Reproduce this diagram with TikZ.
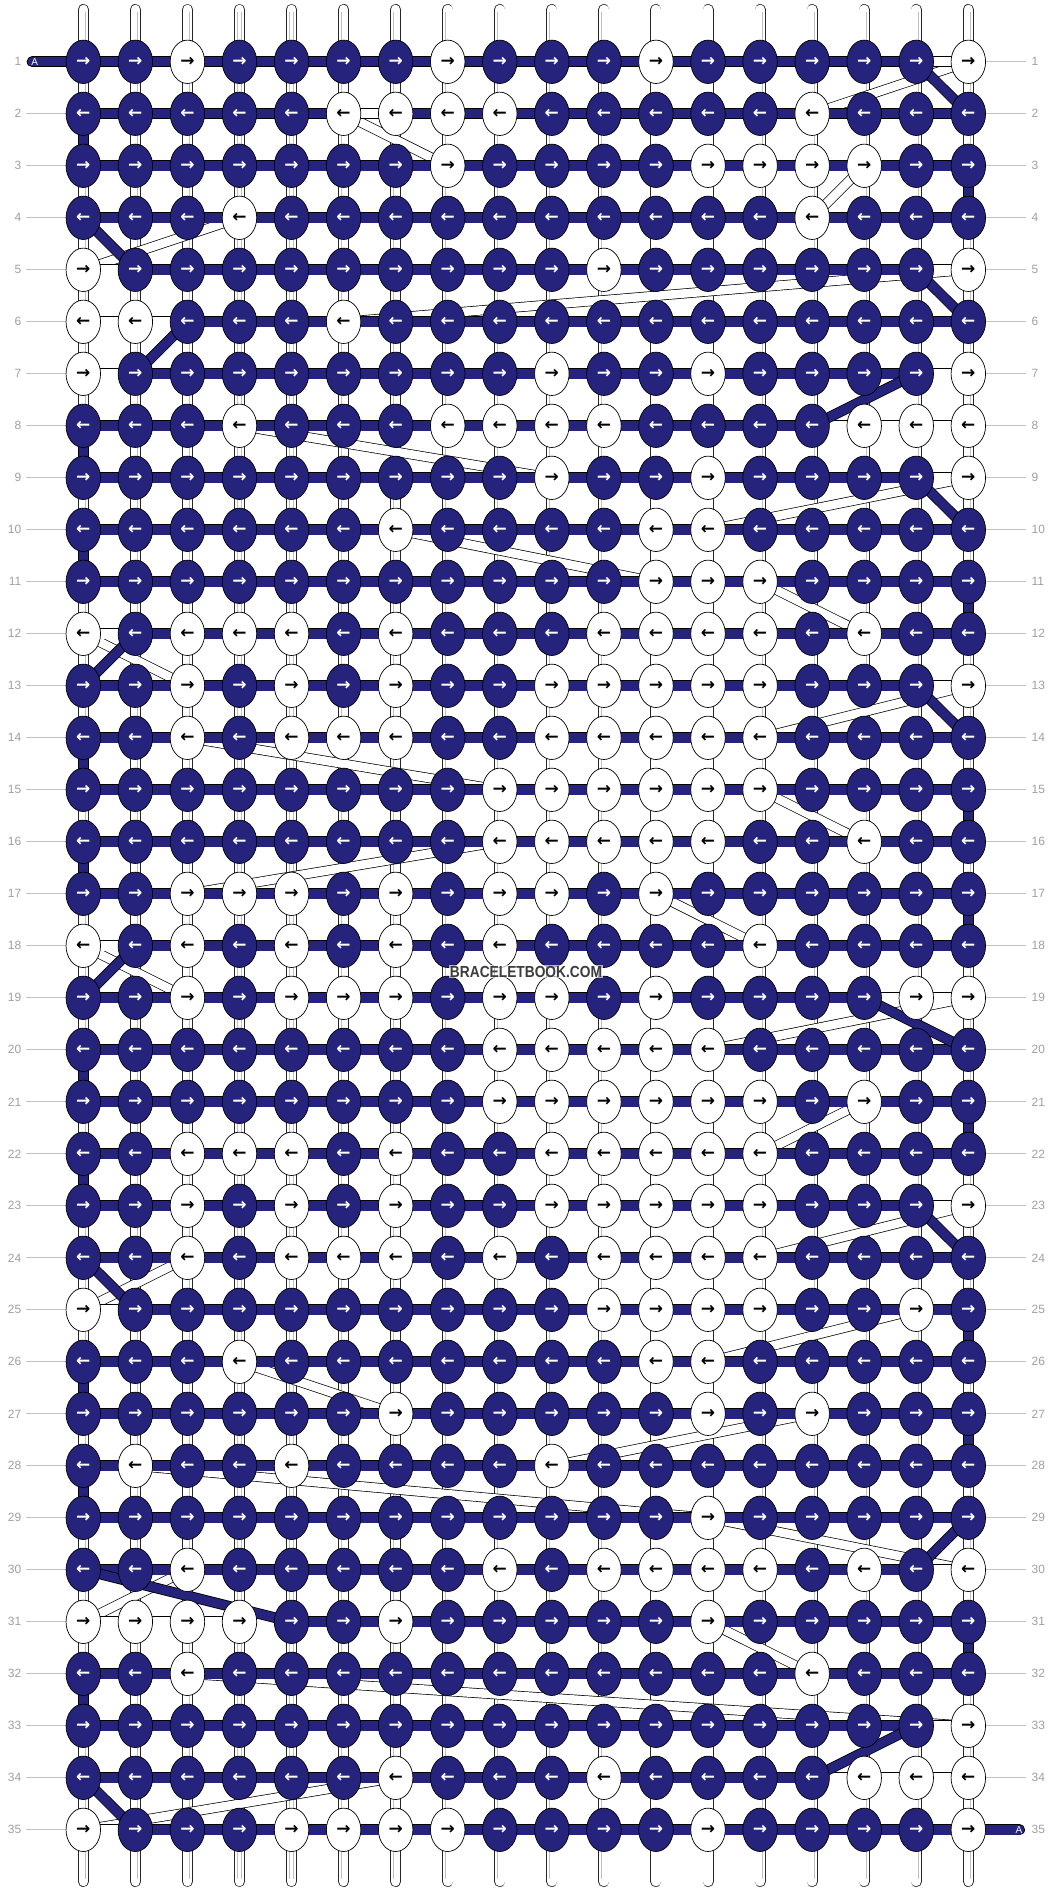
\documentclass[tikz,border=0pt]{standalone}
\usepackage{fontspec}
\setmainfont{Liberation Sans}
\newfontfamily\arrowfont{DejaVu Sans}
\usetikzlibrary{shapes.geometric}
\definecolor{navy}{RGB}{38,35,125}
\definecolor{labgray}{RGB}{160,160,160}
\definecolor{linegray}{RGB}{195,195,195}
\definecolor{wmgray}{RGB}{60,60,60}
\pgfdeclarelayer{paper}
\pgfdeclarelayer{strands}
\pgfdeclarelayer{bands}
\pgfdeclarelayer{bars}
\pgfdeclarelayer{diag}
\pgfsetlayers{paper,strands,bands,bars,diag,main}
\tikzset{
  knot/.style={ellipse, draw=black, line width=0.7pt, minimum width=34.5pt, minimum height=43.4pt, inner sep=0pt, font=\arrowfont\bfseries\fontsize{17}{17}\selectfont},
  knot1/.style={knot, fill=navy, text=white},
  knot0/.style={knot, fill=white, text=black},
  darkbar/.style={draw=black, line width=0.8pt, double=navy, double distance=9.4pt},
  whitebar/.style={draw=black, line width=0.8pt, double=white, double distance=9.4pt},
  band/.style={draw=black, line width=0.7pt, double=white, double distance=8.6pt},
  diagbar/.style={draw=black, line width=0.8pt, double=navy, double distance=9pt},
  strand/.style={draw=black!85, line width=0.7pt, double=white, double distance=9.6pt, line cap=round},
  strandin/.style={draw=black!25, line width=0.5pt, double=white, double distance=3.9pt},
  rowlab/.style={text=labgray, font=\fontsize{12}{12}\selectfont, inner sep=0pt},
  labline/.style={draw=linegray, line width=0.8pt},
  atext/.style={text=white, font=\fontsize{10}{10}\selectfont, inner sep=0pt},
}
\begin{document}
\begin{tikzpicture}[x=1pt,y=-1pt]
\begin{pgfonlayer}{paper}
\fill[white] (0,0) rectangle (1052,1892);
\end{pgfonlayer}
\useasboundingbox (0,0) rectangle (1052,1892);

% knots
\foreach \r/\pat in {
1/{1,1,0,1,1,1,1,0,1,1,1,0,1,1,1,1,1,0},
2/{1,1,1,1,1,0,0,0,0,1,1,1,1,1,0,1,1,1},
3/{1,1,1,1,1,1,1,0,1,1,1,1,0,0,0,0,1,1},
4/{1,1,1,0,1,1,1,1,1,1,1,1,1,1,0,1,1,1},
5/{0,1,1,1,1,1,1,1,1,1,0,1,1,1,1,1,1,0},
6/{0,0,1,1,1,0,1,1,1,1,1,1,1,1,1,1,1,1},
7/{0,1,1,1,1,1,1,1,1,0,1,1,0,1,1,1,1,0},
8/{1,1,1,0,1,1,1,0,0,0,0,1,1,1,1,0,0,0},
9/{1,1,1,1,1,1,1,1,1,0,1,1,0,1,1,1,1,0},
10/{1,1,1,1,1,1,0,1,1,1,1,0,0,1,1,1,1,1},
11/{1,1,1,1,1,1,1,1,1,1,1,0,0,0,1,1,1,1},
12/{0,1,0,0,0,1,0,1,1,1,0,0,0,0,1,0,1,1},
13/{1,1,0,1,0,1,0,1,1,0,0,0,0,0,1,1,1,0},
14/{1,1,0,1,0,0,0,1,1,0,0,0,0,0,1,1,1,1},
15/{1,1,1,1,1,1,1,1,0,0,0,0,0,0,1,1,1,1},
16/{1,1,1,1,1,1,1,1,0,0,0,0,0,1,1,0,1,1},
17/{1,1,0,0,0,1,0,1,0,0,1,0,1,1,1,1,1,1},
18/{0,1,0,1,0,1,0,1,0,1,1,1,1,0,1,1,1,1},
19/{1,1,0,1,0,0,0,1,0,0,1,0,1,1,1,1,0,0},
20/{1,1,1,1,1,1,1,1,0,0,0,0,0,1,1,1,1,1},
21/{1,1,1,1,1,1,1,1,0,0,0,0,0,0,1,0,1,1},
22/{1,1,0,0,0,1,0,1,1,0,0,0,0,0,1,1,1,1},
23/{1,1,0,1,0,1,0,1,1,0,0,0,0,0,1,1,1,0},
24/{1,1,0,1,0,0,0,1,0,1,0,0,0,0,1,1,1,1},
25/{0,1,1,1,1,1,1,1,1,1,0,0,0,0,1,1,0,1},
26/{1,1,1,0,1,1,1,1,1,1,1,0,0,1,1,1,1,1},
27/{1,1,1,1,1,1,0,1,1,1,1,1,0,1,0,1,1,1},
28/{1,0,1,1,0,1,1,1,1,0,1,1,1,1,1,1,1,1},
29/{1,1,1,1,1,1,1,1,1,1,1,1,0,1,1,1,1,1},
30/{1,1,0,1,1,1,1,1,0,1,0,0,0,0,1,0,1,0},
31/{0,0,0,0,1,1,0,1,1,1,1,1,0,1,1,1,1,1},
32/{1,1,0,1,1,1,1,1,1,1,1,1,1,1,0,1,1,1},
33/{1,1,1,1,1,1,1,1,1,1,1,1,1,1,1,1,1,0},
34/{1,1,1,1,1,1,0,1,1,1,0,1,1,1,1,0,0,0},
35/{0,1,1,1,0,0,0,0,1,1,1,1,0,1,1,1,1,0}}{
  \ifodd\r \def\arr{→}\else\def\arr{←}\fi
  \foreach \v [count=\c] in \pat {
    \node[knot\v] (k-\r-\c) at ({83.3+(\c-1)*52.06},{61.8+(\r-1)*52}) {\arr};
  }
}

% vertical strands
\begin{pgfonlayer}{strands}
\foreach \c in {1,...,18}{
  \coordinate (top-\c) at ({83.3+(\c-1)*52.06},9.5);
  \coordinate (bot-\c) at ({83.3+(\c-1)*52.06},1881.5);
  \draw[strand] (top-\c) -- (bot-\c);
  \draw[strandin, shorten <=3pt, shorten >=3pt] (top-\c) -- (bot-\c);
}
\end{pgfonlayer}

% row labels and their lines
\foreach \r in {1,...,35}{
  \node[rowlab, anchor=east] (ll-\r) at (21.5,{61.8+(\r-1)*52}) {\r};
  \node[rowlab, anchor=west] (lr-\r) at (1031.5,{61.8+(\r-1)*52}) {\r};
}
\begin{pgfonlayer}{strands}
\foreach \r in {2,...,35}{
  \draw[labline] ([xshift=4.5pt]ll-\r.east) -- (k-\r-1.west);
}
\foreach \r in {1,...,34}{
  \draw[labline] (k-\r-18.east) -- ([xshift=-5.5pt]lr-\r.west);
}
\end{pgfonlayer}

% white diagonal threads
\begin{pgfonlayer}{bands}
\foreach \ra/\ca/\rb/\cb in {1/18/2/15, 2/6/3/8, 3/16/4/15, 4/4/5/1, 5/18/6/6,
  8/4/9/10, 9/18/10/13, 10/7/11/12, 11/14/12/16, 12/1/13/3, 13/18/14/14,
  14/3/15/9, 15/14/16/16, 16/9/17/3, 17/12/18/14, 18/1/19/3, 19/18/20/13,
  21/16/22/14, 23/18/24/14, 24/3/25/1, 25/17/26/13, 26/4/27/7, 27/15/28/10,
  28/2/29/13, 29/13/30/18, 30/3/31/1, 31/13/32/15, 32/3/33/18, 34/7/35/1}{
  \draw[band] (k-\ra-\ca.center) -- (k-\rb-\cb.center);
}
\end{pgfonlayer}

% horizontal bars and vertical turns
\begin{pgfonlayer}{bars}
\foreach \r in {1,...,35}{
  \draw[darkbar] (k-\r-1.center) -- (k-\r-18.center);
}
\foreach \r/\c in {1/17, 2/6, 5/1, 5/17, 6/1, 6/2, 7/1, 7/17, 8/15, 8/16, 8/17,
  9/17, 12/1, 13/17, 18/1, 19/16, 19/17, 23/17, 25/1, 30/17, 31/1, 31/2, 31/3,
  31/4, 33/17, 34/15, 34/16, 34/17, 35/1}{
  \pgfmathtruncatemacro\cn{\c+1}
  \draw[whitebar] (k-\r-\c.center) -- (k-\r-\cn.center);
}
\foreach \c/\r in {1/2, 1/8, 1/10, 1/14, 1/16, 1/20, 1/22, 1/26, 1/28, 1/32,
  18/3, 18/11, 18/15, 18/17, 18/21, 18/25, 18/27, 18/31}{
  \pgfmathtruncatemacro\rn{\r+1}
  \draw[darkbar] (k-\r-\c.center) -- (k-\rn-\c.center);
}
\coordinate (astart) at (32.2,61.8);
\coordinate (aend) at (1019.5,1829.8);
\draw[darkbar, line cap=round] (astart) -- (k-1-1.center);
\draw[darkbar, line cap=round] (k-35-18.center) -- (aend);
\end{pgfonlayer}

% dark diagonal threads
\begin{pgfonlayer}{diag}
\foreach \ra/\ca/\rb/\cb in {1/17/2/18, 4/1/5/2, 5/17/6/18, 6/3/7/2, 7/17/8/15,
  9/17/10/18, 12/2/13/1, 13/17/14/18, 18/2/19/1, 19/16/20/18, 23/17/24/18,
  24/1/25/2, 29/18/30/17, 30/1/31/5, 33/17/34/15, 34/1/35/2}{
  \draw[diagbar] (k-\ra-\ca.center) -- (k-\rb-\cb.center);
}
\end{pgfonlayer}

\node[atext] (a-left) at (34.7,61.8) {A};
\node[atext] (a-right) at (1019,1829.8) {A};

\node[fill=white, fill opacity=0.65, text opacity=1, inner sep=1pt, text=wmgray,
  font=\bfseries\fontsize{16}{16}\selectfont] (wm) at (526,971.7)
  {\scalebox{0.86}[1]{BRACELETBOOK.COM}};
\end{tikzpicture}
\end{document}
